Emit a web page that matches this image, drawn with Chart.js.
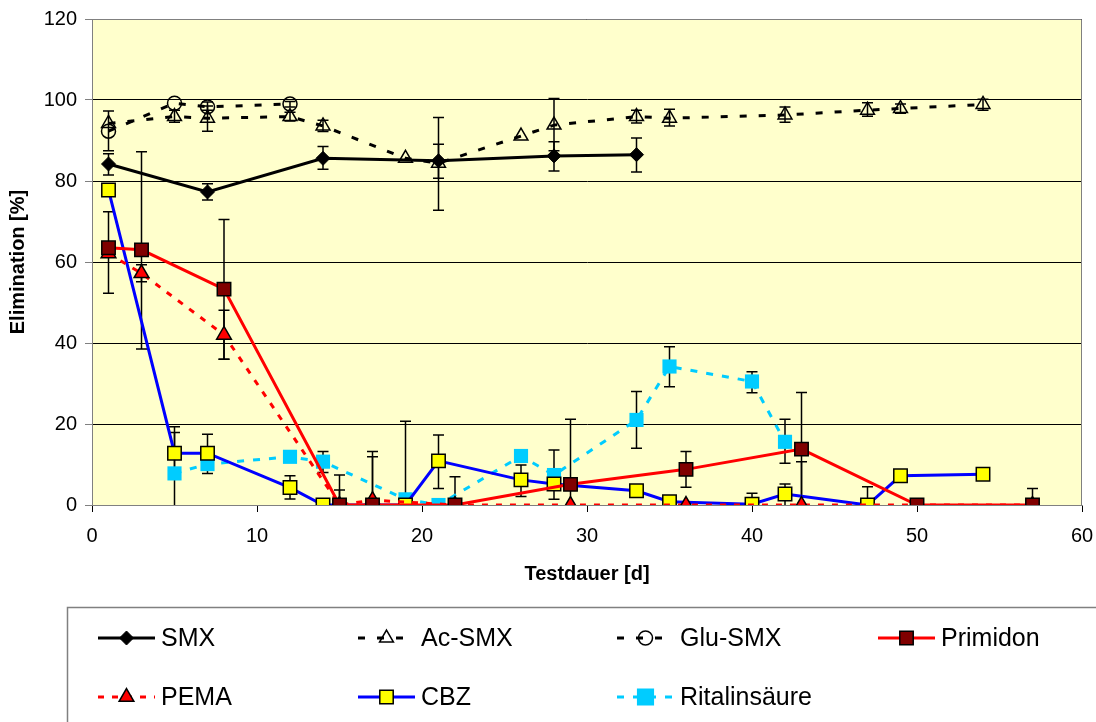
<!DOCTYPE html>
<html>
<head>
<meta charset="utf-8">
<script src="https://cdn.jsdelivr.net/npm/chart.js@4.4.1/dist/chart.umd.min.js"></script>
<style>
  html, body { margin: 0; padding: 0; background: #fff; }
  #wrap { width: 1096px; height: 722px; position: relative; }
</style>
</head>
<body>
<div id="wrap"><canvas id="chart" width="1096" height="722"></canvas></div>
<script>
// Elimination [%] over test duration [d].
// Error ranges are [low, high] in %, null where no bar is visible.

const xTicks = [0, 10, 20, 30, 40, 50, 60];
const yTicks = [0, 20, 40, 60, 80, 100, 120];

const smxDays = [1, 7, 14, 21, 28, 33];
const smxVals = [84.2, 77.3, 85.6, 85.0, 86.2, 86.5];
const smxErr = [[81.5, 86.7], [75.3, 79.3], [82.9, 88.5], [80.7, 89.1], [82.5, 89.7], [82.2, 90.6]];

const acDays = [1, 5, 7, 12, 14, 19, 21, 26, 28, 33, 35, 42, 47, 49, 54];
const acVals = [94.2, 95.9, 95.5, 95.9, 93.6, 85.6, 84.4, 91.1, 93.8, 95.9, 95.5, 96.3, 97.5, 97.9, 98.9];
const acErr = [[87.5, 97.3], [94.5, 97.5], [92.3, 98.5], [94.8, 97.0], [92.2, 95.0], null, [72.8, 95.7], null,
  [87.5, 100.4], [94.3, 97.5], [93.6, 97.7], [94.5, 98.3], [96.0, 99.3], [96.7, 99.0], [97.5, 100.2]];

const gluDays = [1, 5, 7, 12];
const gluVals = [92.3, 99.2, 98.3, 99.0];
const gluErr = [null, null, [97.5, 99.5], [98.3, 99.6]];

const primDays = [1, 3, 8, 15, 17, 22, 29, 36, 43, 50, 57];
const primVals = [63.5, 63.0, 53.3, 0, 0, 0, 5.1, 8.8, 13.8, 0, 0];
const primErr = [[52.3, 72.4], [38.5, 87.2], [36.0, 70.5], [0, 3.7], [0, 13.2], [0, 7.0], [0, 21.2],
  [4.4, 13.2], [0, 27.8], null, [0, 4.1]];

const pemaDays = [1, 3, 8, 15, 17, 22, 29, 36, 43, 57];
const pemaVals = [62.1, 57.2, 42.0, 0, 1.2, 0, 0, 0, 0, 0];
const pemaErr = [null, [55.1, 59.3], [36.0, 48.1], [0, 7.4], [0, 11.9], null, null, null, [0, 10.7], null];

const cbzDays = [1, 5, 7, 12, 14, 19, 21, 26, 28, 33, 35, 40, 42, 47, 49, 54];
const cbzVals = [77.8, 12.8, 12.8, 4.3, 0, 0, 10.9, 6.2, 5.2, 3.5, 0.8, 0.2, 2.7, 0, 7.2, 7.6];
const cbzErr = [null, [6.5, 19.3], [7.8, 17.5], [1.5, 7.2], null, null, [4.1, 17.3], [2.1, 9.9], [1.4, 13.6],
  null, null, [0, 2.9], [0, 5.2], [0, 4.5], null, null];

const ritDays = [5, 7, 12, 14, 19, 21, 26, 28, 33, 35, 40, 42];
const ritVals = [7.8, 10.1, 11.9, 10.7, 1.4, 0, 12.1, 7.4, 21.0, 34.2, 30.5, 15.6];
const ritErr = [[0, 17.9], null, null, [8.0, 13.2], [0, 20.7], null, null, null, [14.0, 28.0], [29.2, 39.1],
  [27.7, 32.9], [10.3, 21.2]];

const FONT = "'Liberation Sans', Arial, sans-serif";
const PLOT_BG = '#FFFFCC';

function pts(days, vals) { return days.map((d, i) => ({ x: d, y: vals[i] })); }

const datasets = [
  { label: 'SMX', data: pts(smxDays, smxVals), err: smxErr, borderColor: '#000', borderWidth: 3,
    pointStyle: 'rectRot', pointRadius: 7, pointBackgroundColor: '#000', pointBorderColor: '#000', pointBorderWidth: 1 },
  { label: 'Ac-SMX', data: pts(acDays, acVals), err: acErr, borderColor: '#000', borderWidth: 3, borderDash: [7, 12],
    pointStyle: 'triangle', pointRadius: 8, pointBackgroundColor: 'rgba(0,0,0,0)', pointBorderColor: '#000', pointBorderWidth: 1.5 },
  { label: 'Glu-SMX', data: pts(gluDays, gluVals), err: gluErr, borderColor: '#000', borderWidth: 3, borderDash: [7, 12],
    pointStyle: 'circle', pointRadius: 7, pointBackgroundColor: 'rgba(0,0,0,0)', pointBorderColor: '#000', pointBorderWidth: 1.5 },
  { label: 'Primidon', data: pts(primDays, primVals), err: primErr, borderColor: '#FF0000', borderWidth: 3,
    pointStyle: 'rect', pointRadius: 9.5, pointBackgroundColor: '#800000', pointBorderColor: '#000', pointBorderWidth: 1.5 },
  { label: 'PEMA', data: pts(pemaDays, pemaVals), err: pemaErr, borderColor: '#FF0000', borderWidth: 3, borderDash: [6, 8],
    pointStyle: 'triangle', pointRadius: 8.5, pointBackgroundColor: '#FF0000', pointBorderColor: '#000', pointBorderWidth: 1.5 },
  { label: 'CBZ', data: pts(cbzDays, cbzVals), err: cbzErr, borderColor: '#0000FF', borderWidth: 3,
    pointStyle: 'rect', pointRadius: 9.5, pointBackgroundColor: '#FFFF00', pointBorderColor: '#000', pointBorderWidth: 1.5 },
  { label: 'Ritalinsäure', data: pts(ritDays, ritVals), err: ritErr, borderColor: '#00CCFF', borderWidth: 3, borderDash: [7, 9],
    pointStyle: 'rect', pointRadius: 10, pointBackgroundColor: '#00CCFF', pointBorderColor: '#00CCFF', pointBorderWidth: 0 },
];
datasets.forEach((d) => { d.fill = false; d.tension = 0; d.showLine = true; });

// plot background + axis titles
const frame = {
  id: 'frame',
  beforeDraw(chart) {
    const { ctx, chartArea: a } = chart;
    ctx.save();
    ctx.fillStyle = PLOT_BG;
    ctx.fillRect(a.left, a.top, a.right - a.left, a.bottom - a.top);
    ctx.restore();
  },
  afterDraw(chart) {
    const { ctx, chartArea: a } = chart;
    ctx.save();
    ctx.strokeStyle = '#808080'; ctx.lineWidth = 1;
    ctx.beginPath();
    ctx.moveTo(a.left, a.top + 0.5); ctx.lineTo(a.right - 0.5, a.top + 0.5); ctx.lineTo(a.right - 0.5, a.bottom);
    ctx.stroke();
    ctx.fillStyle = '#000';
    ctx.font = `bold 20px ${FONT}`;
    ctx.textAlign = 'center'; ctx.textBaseline = 'middle';
    ctx.fillText('Testdauer [d]', (a.left + a.right) / 2, 574);
    ctx.translate(18, (a.top + a.bottom) / 2);
    ctx.rotate(-Math.PI / 2);
    ctx.fillText('Elimination [%]', 0, 0);
    ctx.restore();
  },
};

// vertical error bars, positioned through the chart's own scales
const errorBars = {
  id: 'errorBars',
  beforeDatasetsDraw(chart) {
    const { ctx, chartArea: a, scales: { x, y } } = chart;
    ctx.save();
    ctx.beginPath(); ctx.rect(a.left, a.top, a.right - a.left, a.bottom - a.top + 1); ctx.clip();
    ctx.strokeStyle = '#000'; ctx.lineWidth = 1.5;
    chart.data.datasets.forEach((ds) => {
      ds.data.forEach((p, i) => {
        const e = ds.err[i];
        if (!e) return;
        const px = x.getPixelForValue(p.x);
        const lo = y.getPixelForValue(e[0]);
        const hi = y.getPixelForValue(e[1]);
        ctx.beginPath();
        ctx.moveTo(px, lo); ctx.lineTo(px, hi);
        ctx.moveTo(px - 5.5, hi); ctx.lineTo(px + 5.5, hi);
        if (e[0] > 0) { ctx.moveTo(px - 5.5, lo); ctx.lineTo(px + 5.5, lo); }
        ctx.stroke();
      });
    });
    ctx.restore();
  },
};

function marker(ctx, ds, cx, cy) {
  const r = ds.pointRadius;
  ctx.save();
  ctx.fillStyle = ds.pointBackgroundColor;
  ctx.strokeStyle = ds.pointBorderColor;
  ctx.lineWidth = ds.pointBorderWidth || 0;
  ctx.setLineDash([]);
  ctx.beginPath();
  if (ds.pointStyle === 'rectRot') {
    ctx.moveTo(cx, cy - r); ctx.lineTo(cx + r, cy); ctx.lineTo(cx, cy + r); ctx.lineTo(cx - r, cy); ctx.closePath();
  } else if (ds.pointStyle === 'triangle') {
    ctx.moveTo(cx, cy - r); ctx.lineTo(cx + r * 0.866, cy + r / 2); ctx.lineTo(cx - r * 0.866, cy + r / 2); ctx.closePath();
  } else if (ds.pointStyle === 'circle') {
    ctx.arc(cx, cy, r, 0, Math.PI * 2);
  } else {
    const s = r * Math.SQRT1_2;
    ctx.rect(cx - s, cy - s, 2 * s, 2 * s);
  }
  ctx.fill();
  if (ctx.lineWidth > 0) ctx.stroke();
  ctx.restore();
}

// boxed two-row legend like the original
const boxLegend = {
  id: 'boxLegend',
  afterDraw(chart) {
    const ctx = chart.ctx;
    const cols = [98, 358, 617, 878];
    const rows = [638, 697];
    ctx.save();
    ctx.strokeStyle = '#808080'; ctx.lineWidth = 1.5;
    ctx.strokeRect(67.5, 607.5, 1100, 200);
    ctx.font = `25px ${FONT}`;
    ctx.textBaseline = 'middle'; ctx.textAlign = 'left';
    chart.data.datasets.forEach((ds, i) => {
      const lx = cols[i % 4], ly = rows[Math.floor(i / 4)];
      ctx.strokeStyle = ds.borderColor; ctx.lineWidth = ds.borderWidth;
      ctx.setLineDash(ds.borderDash || []);
      ctx.beginPath(); ctx.moveTo(lx, ly); ctx.lineTo(lx + 57, ly); ctx.stroke();
      ctx.setLineDash([]);
      marker(ctx, ds, lx + 28.5, ly);
      ctx.fillStyle = '#000';
      ctx.fillText(ds.label, lx + 63, ly + 1);
    });
    ctx.restore();
  },
};

new Chart(document.getElementById('chart'), {
  type: 'line',
  data: { datasets },
  plugins: [frame, errorBars, boxLegend],
  options: {
    responsive: false, animation: false, devicePixelRatio: 1,
    layout: { padding: { left: 0, top: 19, right: 14, bottom: 0 } },
    plugins: { legend: { display: false }, tooltip: { enabled: false } },
    scales: {
      x: {
        type: 'linear', min: 0, max: 60,
        afterFit: (s) => { s.height = 217; s.paddingLeft = 0; s.paddingRight = 0; },
        afterBuildTicks: (s) => { s.ticks = xTicks.map((v) => ({ value: v })); },
        grid: { drawOnChartArea: false, drawTicks: true, tickLength: 7, color: '#000' },
        border: { color: '#808080', width: 1 },
        ticks: { color: '#000', font: { family: FONT, size: 20 }, padding: 12, maxRotation: 0 },
      },
      y: {
        min: 0, max: 120,
        afterFit: (s) => { s.width = 92; s.paddingTop = 0; s.paddingBottom = 0; },
        afterBuildTicks: (s) => { s.ticks = yTicks.map((v) => ({ value: v })); },
        grid: { color: '#000', lineWidth: 1, drawTicks: true, tickLength: 7, tickColor: '#808080' },
        border: { color: '#808080', width: 1 },
        ticks: { color: '#000', font: { family: FONT, size: 20 }, padding: 8 },
      },
    },
  },
});
</script>
</body>
</html>
